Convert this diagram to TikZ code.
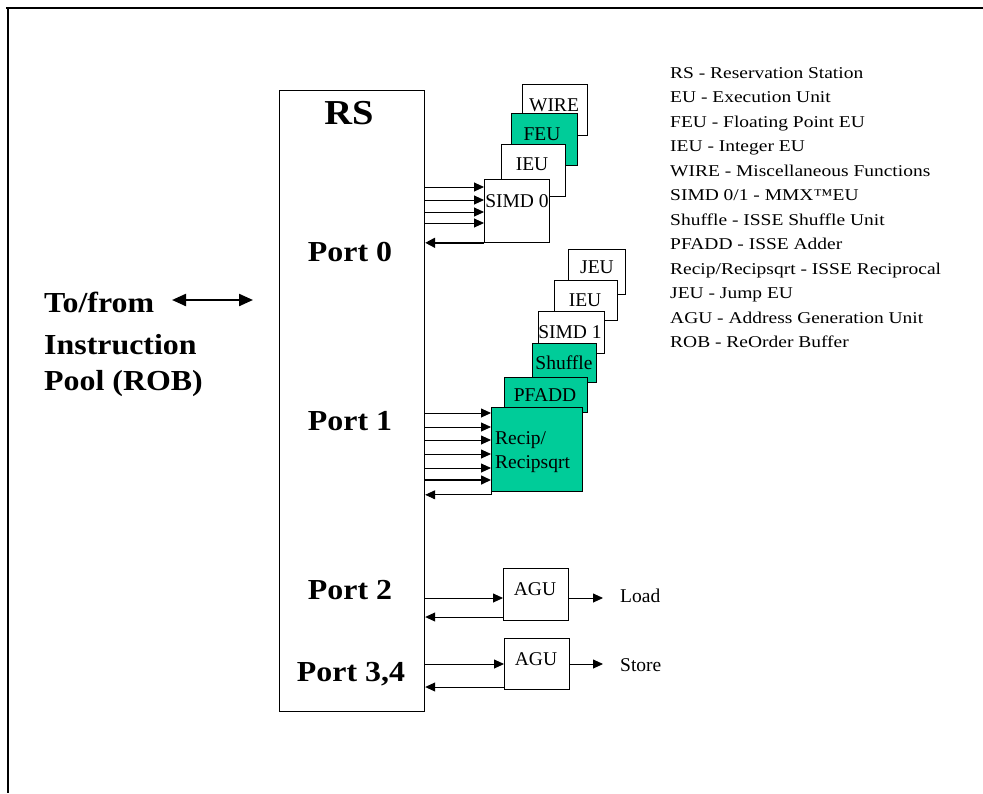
\documentclass[tikz,border=0pt]{standalone}
\usepackage{fontspec}
\setmainfont{Liberation Serif}
\newfontfamily\bmfont[FakeStretch=1.18]{Liberation Serif}
\newfontfamily\lbfont{Liberation Serif}
\newfontfamily\bdfont[FakeStretch=1.1]{Liberation Serif}
\usetikzlibrary{arrows.meta}
\definecolor{eugreen}{RGB}{0,204,153}
\tikzset{
  eubox/.style={draw, line width=0.8pt, fill=white, anchor=north west, inner sep=0pt},
  greenbox/.style={eubox, fill=eugreen},
  lab/.style={font=\lbfont\fontsize{19.5}{21}\selectfont, inner sep=0pt},
  legend/.style={font=\bmfont\fontsize{16.5}{18}\selectfont, inner sep=0pt, anchor=base west},
  big/.style={font=\bdfont\bfseries\fontsize{29}{32}\selectfont, inner sep=0pt},
  arr/.style={-{Triangle[length=10pt,width=9pt]}, line width=0.9pt},
  arrthick/.style={-{Triangle[length=10pt,width=10pt]}, line width=1.8pt},
}
\begin{document}
\begin{tikzpicture}[x=1pt,y=-1pt]
\useasboundingbox[fill=white] (0,0) rectangle (983,793);
% frame
\draw[line width=1.6pt] (6,8) -- (983,8);
\draw[line width=1.6pt] (8,8) -- (8,793);

% RS
\node[eubox, line width=1.2pt, minimum width=145pt, minimum height=621pt] (RS) at (279,90) {};
\node[big, font=\bdfont\bfseries\fontsize{35}{38}\selectfont] (rslab) at (349,113) {RS};
\node[big] (p0) at (350,252) {Port 0};
\node[big] (p1) at (350,421) {Port 1};
\node[big] (p2) at (350,590) {Port 2};
\node[big] (p34) at (351,674) {Port 3,4};

% left text
\node[big, anchor=west] (t1) at (44,302) {To/from};
\node[big, anchor=west] (t2) at (44,345) {Instruction};
\node[big, anchor=west] (t3) at (44,384) {Pool (ROB)};
\coordinate (dl) at (172,300);
\coordinate (dr) at (253,300);
\draw[{Triangle[length=14pt,width=12pt]}-{Triangle[length=14pt,width=12pt]}, line width=2.2pt] (dl) -- (dr);

% Port 0 group
\node[eubox, minimum width=65pt, minimum height=51pt] (WIRE) at (522,84) {};
\node[lab] at (554,105) {WIRE};
\node[greenbox, minimum width=66pt, minimum height=52pt] (FEU) at (511,113) {};
\node[lab] at (542,134) {FEU};
\node[eubox, minimum width=64pt, minimum height=52pt] (IEU0) at (501,144) {};
\node[lab] at (532,164) {IEU};
\node[eubox, minimum width=65pt, minimum height=63pt] (SIMD0) at (484,179) {};
\node[lab] at (517,201) {SIMD 0};

\foreach \yy in {187,200,212,223}
  \draw[arr] (RS.east |- 0,\yy) -- (SIMD0.west |- 0,\yy);
\draw[arrthick] (SIMD0.south west) -- (RS.east |- SIMD0.south west);

% Port 1 group
\node[eubox, minimum width=57pt, minimum height=45pt] (JEU) at (568,249) {};
\node[lab] at (597,267) {JEU};
\node[eubox, minimum width=63pt, minimum height=40pt] (IEU1) at (554,280) {};
\node[lab] at (585,300) {IEU};
\node[eubox, minimum width=66pt, minimum height=42pt] (SIMD1) at (538,311) {};
\node[lab] at (570,332) {SIMD 1};
\node[greenbox, minimum width=64pt, minimum height=39pt] (SHUF) at (532,343) {};
\node[lab] at (564,363) {Shuffle};
\node[greenbox, minimum width=83pt, minimum height=35pt] (PFADD) at (504,377) {};
\node[lab] at (545,395) {PFADD};
\node[greenbox, minimum width=91pt, minimum height=84pt] (RECIP) at (491,407) {};
\node[lab, anchor=west] at (495,440) {Recip/};
\node[lab, anchor=west] at (495,464) {Recipsqrt};

\foreach \yy in {413,427,440,454,468}
  \draw[arr] (RS.east |- 0,\yy) -- (RECIP.west |- 0,\yy);
\draw[arr, line width=1.6pt] (RS.east |- 0,480) -- (RECIP.west |- 0,480);
\coordinate (rback) at ([yshift=-3pt]RECIP.south west);
\draw[arr] (RECIP.south west) -- (rback) -- (RS.east |- rback);

% Port 2
\node[eubox, minimum width=65pt, minimum height=52pt] (AGU1) at (503,568) {};
\node[lab] at (535,589) {AGU};
\draw[arr] (RS.east |- 0,598) -- (AGU1.west |- 0,598);
\draw[arr] (AGU1.west |- 0,617) -- (RS.east |- 0,617);
\coordinate (loadtip) at (603,598);
\draw[arr] (AGU1.east |- loadtip) -- (loadtip);
\node[lab, anchor=west] (load) at (620,596) {Load};

% Port 3,4
\node[eubox, minimum width=65pt, minimum height=51pt] (AGU2) at (504,638) {};
\node[lab] at (536,659) {AGU};
\draw[arr] (RS.east |- 0,664) -- (AGU2.west |- 0,664);
\draw[arr] (AGU2.west |- 0,687) -- (RS.east |- 0,687);
\coordinate (storetip) at (603,664);
\draw[arr] (AGU2.east |- storetip) -- (storetip);
\node[lab, anchor=west] (store) at (620,665) {Store};

% legend
\foreach \t [count=\i from 0] in {RS - Reservation Station, EU - Execution Unit, FEU - Floating Point EU, IEU - Integer EU, WIRE - Miscellaneous Functions, SIMD 0/1 - MMX™EU, Shuffle - ISSE Shuffle Unit, PFADD - ISSE Adder, Recip/Recipsqrt - ISSE Reciprocal, JEU - Jump EU, AGU - Address Generation Unit, ROB - ReOrder Buffer}
  \node[legend] (leg\i) at (670,{78+24.5*\i}) {\t};
\end{tikzpicture}
\end{document}
